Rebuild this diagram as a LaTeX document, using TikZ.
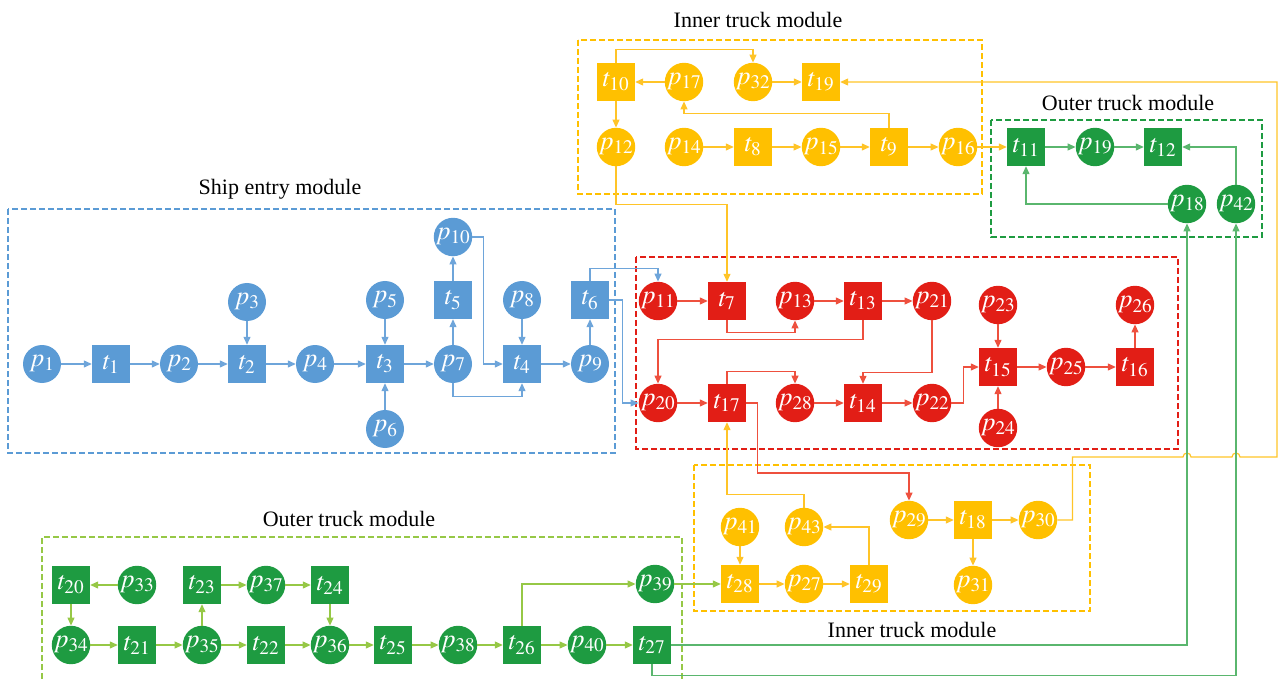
\documentclass[tikz,border=0pt]{standalone}
\usepackage{mathptmx}
\usepackage[no-math]{fontspec}
\setmainfont{Liberation Serif}
\usepackage{xcolor}
\usetikzlibrary{arrows.meta}
\definecolor{shipblue}{RGB}{91,155,213}
\definecolor{shipline}{RGB}{110,165,218}
\definecolor{berthred}{RGB}{226,30,22}
\definecolor{berthline}{RGB}{238,80,62}
\definecolor{truckyel}{RGB}{255,192,0}
\definecolor{yelline}{RGB}{255,196,40}
\definecolor{truckgrn}{RGB}{30,155,65}
\definecolor{grnline}{RGB}{90,182,110}
\definecolor{yardlime}{RGB}{150,200,70}

\begin{document}
\begin{tikzpicture}[x=1pt,y=-1pt,
  pbox/.style={circle,minimum size=38pt,inner sep=0pt,text=white,font=\fontsize{26}{26}\selectfont},
  tbox/.style={rectangle,minimum size=38pt,inner sep=0pt,text=white,font=\fontsize{26}{26}\selectfont},
  link/.style={line width=1.2pt,-{Triangle[length=8pt,width=7pt]}},
  frame/.style={line width=2.4pt,dash pattern=on 6pt off 3pt},
  title/.style={font=\fontsize{22}{22}\selectfont}]
  \useasboundingbox (0,0) rectangle (1278,679);

  \draw[frame,shipblue] (8,209) rectangle (615,453);
  \draw[frame,berthred] (636,257) rectangle (1178,449);
  \draw[frame,truckyel] (578,40) rectangle (982,194);
  \draw[frame,truckgrn] (991,120) rectangle (1262,237);
  \draw[frame,truckyel] (694,465) rectangle (1090,611);
  \draw[frame,yardlime] (42,679) |- (682,537) -- (682,679);
  \node[title] (ttlship) at (280,189) {Ship entry module};
  \node[title] (ttlinA) at (758,20) {Inner truck module};
  \node[title] (ttloutA) at (1128,103) {Outer truck module};
  \node[title] (ttlinB) at (912,630) {Inner truck module};
  \node[title] (ttloutB) at (349,519) {Outer truck module};

  \foreach \k/\i/\x/\y in {p/1/42/364, t/1/111/364, p/2/179/364, t/2/247/364, p/3/247/302,
     p/4/315/364, t/3/385/364, p/5/385/300, p/6/385/429, p/7/453/364, t/5/453/300,
     p/10/453/237, t/4/522/364, p/8/522/300, p/9/590/364, t/6/590/300}
  { \node[\k box,fill=shipblue] (\k\i) at (\x,\y) {$\k_{\i}$}; }
  \foreach \k/\i/\x/\y in {p/11/658/301, t/7/727/301, p/13/795/301, t/13/863/301, p/21/932/301,
     p/20/658/403, t/17/727/403, p/28/795/403, t/14/863/403, p/22/932/403, p/23/998/305,
     t/15/998/367, p/24/998/428, p/25/1066/367, t/16/1135/367, p/26/1135/305}
  { \node[\k box,fill=berthred] (\k\i) at (\x,\y) {$\k_{\i}$}; }
  \foreach \k/\i/\x/\y in {t/10/616/82, p/17/684/82, p/32/753/82, t/19/821/82, p/12/616/147,
     p/14/684/147, t/8/753/147, p/15/821/147, t/9/889/147, p/16/958/147,
     p/41/740/527, p/43/804/527, t/28/740/584, p/27/804/584, t/29/869/584,
     p/29/909/520, t/18/973/520, p/30/1038/520, p/31/973/585}
  { \node[\k box,fill=truckyel] (\k\i) at (\x,\y) {$\k_{\i}$}; }
  \foreach \k/\i/\x/\y in {t/11/1026/147, p/19/1095/147, t/12/1163/147, p/18/1187/204, p/42/1236/204,
     t/20/71/585, p/33/137/585, t/23/202/585, p/37/266/585, t/24/330/585,
     p/34/71/645, t/21/137/645, p/35/202/645, t/22/266/645, p/36/330/645, t/25/393/645,
     p/38/458/645, t/26/522/645, p/40/587/645, t/27/652/645, p/39/655/584}
  { \node[\k box,fill=truckgrn] (\k\i) at (\x,\y) {$\k_{\i}$}; }
  \coordinate (hopA) at (1183,457);
  \coordinate (hopB) at (1232,457);
  \coordinate (yr) at (1277,457);

  \foreach \a/\b in {p1/t1, t1/p2, p2/t2, p3/t2, t2/p4, p4/t3, p5/t3, p6/t3, t3/p7,
     p7/t5, t5/p10, p8/t4, t4/p9, p9/t6}
  { \draw[link,shipline] (\a) -- (\b); }
  \draw[link,shipline] (p10.east) -- ++(11,0) |- (t4.west);
  \draw[link,shipline] (p7.south) -- ++(0,13) -| (t4.south);
  \draw[link,shipline] (t6.north) -- ++(0,-12) -| (p11.north);
  \draw[link,shipline] (t6.east) -- ++(13,0) |- (p20.west);

  \foreach \a/\b in {p11/t7, p13/t13, t13/p21, p20/t17, p28/t14, t14/p22, p23/t15,
     p24/t15, t15/p25, p25/t16, t16/p26}
  { \draw[link,berthline] (\a) -- (\b); }
  \draw[link,berthline] (t7.south) -- ++(0,12) -| (p13.south);
  \draw[link,berthline] (t13.south) -- ++(0,19) -| (p20.north);
  \draw[link,berthline] (p21.south) -- ++(0,52) -| (t14.north);
  \draw[link,berthline] (t17.north) -- ++(0,-12) -| (p28.north);
  \draw[link,berthline] (p22.east) -- ++(12,0) |- (t15.west);
  \draw[link,berthline] (t17.east) -- ++(11,0) -- ++(0,70) -| (p29.north);

  \foreach \a/\b in {p17/t10, t10/p12, p32/t19, p14/t8, t8/p15, p15/t9, t9/p16, p16/t11,
     p41/t28, t28/p27, p27/t29, p29/t18, t18/p30, t18/p31}
  { \draw[link,yelline] (\a) -- (\b); }
  \draw[link,yelline] (t10.north) -- ++(0,-13) -| (p32.north);
  \draw[link,yelline] (t9.north) -- ++(0,-14) -| (p17.south);
  \draw[link,yelline] (p12.south) -- ++(0,38) -| (t7.north);
  \draw[link,yelline] (p43.north) -- ++(0,-13) -| (t17.south);
  \draw[link,yelline] (t29.north) |- (p43.east);
  \draw[link,yelline] (p30.east) -- ++(15,0) |- (hopA)
     arc[start angle=180,end angle=360,radius=4] -- (hopB)
     arc[start angle=180,end angle=360,radius=4] -- (yr) |- (t19.east);

  \foreach \a/\b in {t11/p19, p19/t12}
  { \draw[link,grnline] (\a) -- (\b); }
  \draw[link,grnline] (p18.west) -| (t11.south);
  \draw[link,grnline] (p42.north) |- (t12.east);
  \draw[link,grnline] (t27.east) -| (p18.south);
  \draw[link,grnline] (t27.south) -- ++(0,11) -| (p42.south);

  \foreach \a/\b in {p33/t20, t20/p34, p34/t21, t21/p35, p35/t22, t22/p36, p35/t23,
     t23/p37, p37/t24, t24/p36, p36/t25, t25/p38, p38/t26, t26/p40, p40/t27, p39/t28}
  { \draw[link,yardlime] (\a) -- (\b); }
  \draw[link,yardlime] (t26.north) |- (p39.west);
\end{tikzpicture}
\end{document}
